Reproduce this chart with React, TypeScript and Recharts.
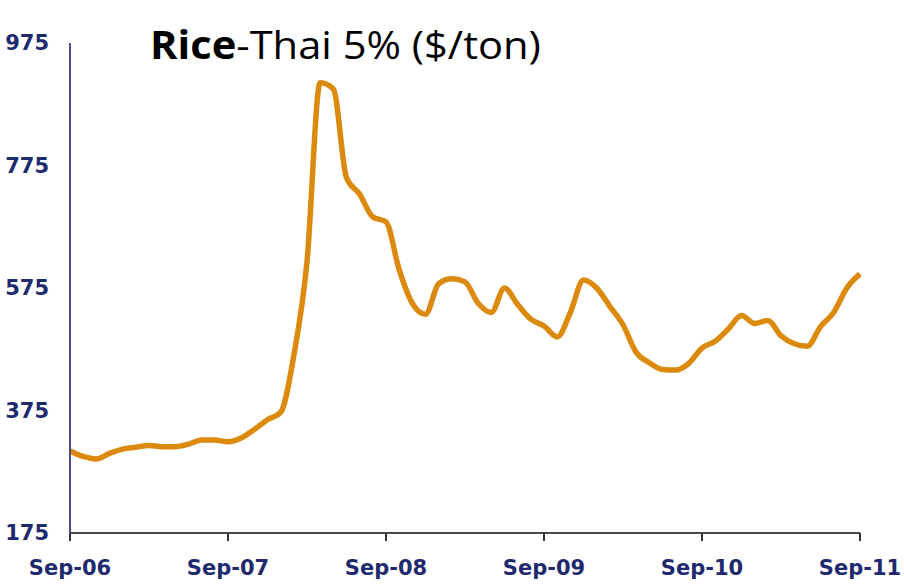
import { LineChart, Line, XAxis, YAxis } from "recharts";

// monthly Thai 5% broken rice export price, Sep-06 .. Sep-11 ($/ton)
const MONTH_NAMES = ["Jan", "Feb", "Mar", "Apr", "May", "Jun", "Jul", "Aug", "Sep", "Oct", "Nov", "Dec"];

const months: string[] = [];
for (let i = 0; i <= 60; i++) {
  const m = (8 + i) % 12;
  const yr = 6 + Math.floor((8 + i) / 12);
  months.push(`${MONTH_NAMES[m]}-${String(yr).padStart(2, "0")}`);
}

const prices = [
  309, 300, 296, 305, 312, 315, 318, 316, 316, 320, 327, 327,
  324, 330, 344, 360, 372, 465, 618, 910, 900, 755, 728, 691,
  683, 605, 550, 532, 582, 590, 585, 550, 535, 575, 548, 524,
  513, 495, 535, 588, 575, 545, 515, 470, 453, 442, 441, 452,
  477, 488, 508, 530, 517, 522, 497, 484, 480, 512, 535, 575,
  598,
];

const xTicks = ["Sep-06", "Sep-07", "Sep-08", "Sep-09", "Sep-10", "Sep-11"];
const yTicks = [175, 375, 575, 775, 975];

const data = months.map((name, i) => ({ name, price: prices[i] }));

const labelStyle = {
  fontSize: 21,
  fontWeight: 700,
  fill: "#1f2a6e",
  fontFamily: "DejaVu Sans, sans-serif",
};

export default function App() {
  return (
    <div style={{ position: "absolute", left: 0, top: 0, width: 904, height: 586, background: "#fff" }}>
      <LineChart
        width={904}
        height={586}
        data={data}
        margin={{ top: 43, right: 44, left: 0, bottom: 0 }}
      >
        <XAxis
          dataKey="name"
          ticks={xTicks}
          interval={0}
          axisLine={{ stroke: "#4a4a4a", strokeWidth: 2 }}
          tickLine={{ stroke: "#333", strokeWidth: 2 }}
          tickSize={8}
          tickMargin={19}
          height={53}
          tick={labelStyle}
        />
        <YAxis
          domain={[175, 975]}
          ticks={yTicks}
          interval={0}
          width={70}
          axisLine={{ stroke: "#4b4b8c", strokeWidth: 2 }}
          tickLine={false}
          tickSize={6}
          tickMargin={15}
          tick={labelStyle}
        />
        <Line
          type="monotone"
          dataKey="price"
          stroke="#dc8a0e"
          strokeWidth={5.5}
          dot={false}
          isAnimationActive={false}
        />
      </LineChart>
      {/* title sits over the plot, drawn last */}
      <div
        style={{
          position: "absolute",
          left: 150,
          top: 18,
          fontFamily: "'Open Sans', sans-serif",
          fontSize: 38.6,
          color: "#000",
          whiteSpace: "nowrap",
          lineHeight: "normal",
          transform: "scaleX(1.08)",
          transformOrigin: "left top",
        }}
      >
        <b>Rice</b>-Thai 5% ($/ton)
      </div>
    </div>
  );
}
